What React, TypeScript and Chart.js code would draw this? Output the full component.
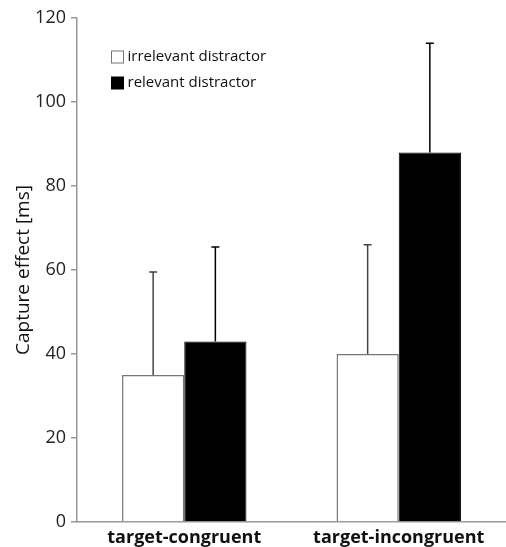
import React, { useEffect, useRef } from "react";
import { Chart, registerables } from "chart.js";

Chart.register(...registerables);

const categories = ["target-congruent", "target-incongruent"];
const seriesLabels = ["irrelevant distractor", "relevant distractor"];
const irrelevantMeans = [35, 40];
const relevantMeans = [43, 88];
const irrelevantErrors = [24.5, 26];
const relevantErrors = [22.5, 26];
const yTickValues = [0, 20, 40, 60, 80, 100, 120];
const yTitle = "Capture effect [ms]";

const FONT = "'Open Sans', 'DejaVu Sans', sans-serif";

const errorBarPlugin = {
  id: "errorBars",
  afterDatasetsDraw(chart: any) {
    const ctx = chart.ctx;
    const yScale = chart.scales.y;
    chart.data.datasets.forEach((ds: any, i: number) => {
      const meta = chart.getDatasetMeta(i);
      meta.data.forEach((bar: any, j: number) => {
        const v = ds.data[j] + ds.errors[j];
        const yTop = yScale.getPixelForValue(v);
        ctx.save();
        ctx.strokeStyle = ds.errorColor;
        ctx.lineWidth = 1.5;
        ctx.beginPath();
        ctx.moveTo(bar.x, bar.y);
        ctx.lineTo(bar.x, yTop);
        ctx.moveTo(bar.x - 4, yTop);
        ctx.lineTo(bar.x + 4, yTop);
        ctx.stroke();
        ctx.restore();
      });
    });
  },
};

const insideLegendPlugin = {
  id: "insideLegend",
  afterDraw(chart: any) {
    const ctx = chart.ctx;
    const { left, top } = chart.chartArea;
    ctx.save();
    chart.data.datasets.forEach((ds: any, i: number) => {
      const cy = top + 39 + i * 26;
      const bx = left + 34.5;
      ctx.fillStyle = ds.backgroundColor;
      ctx.fillRect(bx, cy - 6, 12, 12);
      ctx.strokeStyle = ds.borderColor;
      ctx.lineWidth = 1;
      ctx.strokeRect(bx, cy - 6, 12, 12);
      ctx.fillStyle = "#111";
      ctx.font = `15px ${FONT}`;
      ctx.textBaseline = "middle";
      ctx.textAlign = "left";
      ctx.fillText(ds.label, bx + 16, cy);
    });
    ctx.restore();
  },
};

export default function App() {
  const canvasRef = useRef<HTMLCanvasElement | null>(null);

  useEffect(() => {
    const canvas = canvasRef.current;
    if (!canvas) return;
    const chart = new Chart(canvas, {
      type: "bar",
      data: {
        labels: categories,
        datasets: [
          {
            label: seriesLabels[0],
            data: irrelevantMeans,
            errors: irrelevantErrors,
            errorColor: "#444",
            backgroundColor: "#ffffff",
            borderColor: "#777777",
            borderWidth: 1.5,
            categoryPercentage: 0.58,
            barPercentage: 1.0,
          } as any,
          {
            label: seriesLabels[1],
            data: relevantMeans,
            errors: relevantErrors,
            errorColor: "#000",
            backgroundColor: "#000000",
            borderColor: "#000000",
            borderWidth: 1,
            categoryPercentage: 0.58,
            barPercentage: 1.0,
          } as any,
        ],
      },
      options: {
        animation: false,
        responsive: false,
        maintainAspectRatio: false,
        layout: { padding: { top: 18, right: 0, left: 0, bottom: 0 } },
        plugins: {
          legend: { display: false },
          tooltip: { enabled: false },
        },
        scales: {
          x: {
            grid: { display: false },
            border: { display: true, color: "#999", width: 1.5 },
            ticks: {
              color: "#111",
              font: { family: FONT, size: 18, weight: "bold" },
              padding: -3,
            },
            afterFit(scale: any) {
              scale.height = 25;
            },
          },
          y: {
            min: 0,
            max: 120,
            afterBuildTicks(scale: any) {
              scale.ticks = yTickValues.map((v) => ({ value: v }));
            },
            grid: {
              display: true,
              drawOnChartArea: false,
              drawTicks: true,
              tickLength: 6,
              tickColor: "#999",
              lineWidth: 1.5,
            },
            border: { display: true, color: "#999", width: 1.5 },
            ticks: {
              color: "#222",
              font: { family: FONT, size: 18 },
              padding: 5,
            },
            title: {
              display: true,
              text: yTitle,
              color: "#111",
              font: { family: FONT, size: 19 },
              padding: { top: 12, bottom: 0 },
            },
            afterFit(scale: any) {
              scale.width = 77;
            },
          },
        },
      } as any,
      plugins: [errorBarPlugin, insideLegendPlugin],
    });
    return () => chart.destroy();
  }, []);

  return (
    <div style={{ position: "fixed", left: 0, top: 0, width: 506, height: 547, background: "#fff" }}>
      <canvas ref={canvasRef} width={506} height={547} style={{ display: "block" }} />
    </div>
  );
}
